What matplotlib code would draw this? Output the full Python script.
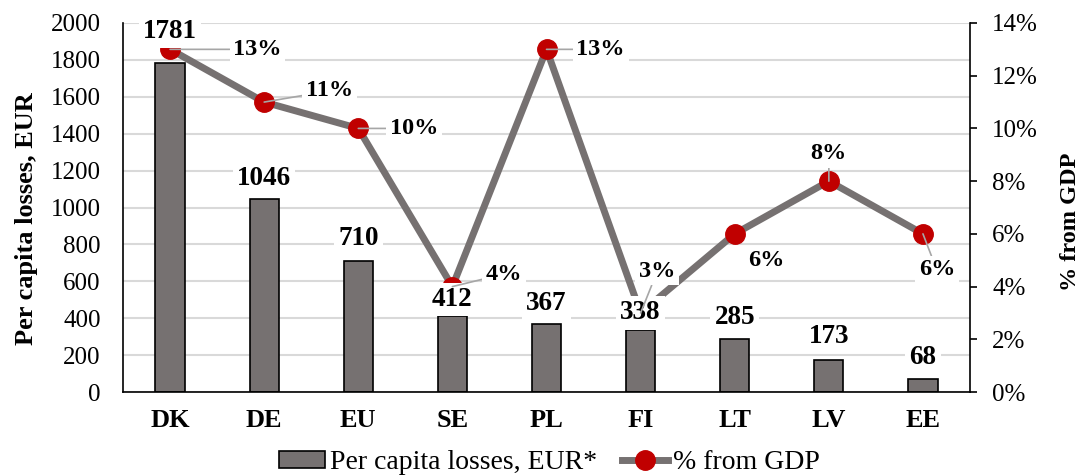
import matplotlib
matplotlib.use('Agg')
import matplotlib.pyplot as plt
from matplotlib.ticker import FuncFormatter, MultipleLocator
from matplotlib.lines import Line2D
from matplotlib.patches import Patch
import numpy as np

countries=['DK','DE','EU','SE','PL','FI','LT','LV','EE']
losses=[1781,1046,710,412,367,338,285,173,68]
gdp_share=[13,11,10,4,13,3,6,8,6]   # % from GDP

# label offsets in points (styling only)
loss_off=[23,15,16,12,15,12,16,17,16]
pct_off=[(63,0),(47,8),(40,0),(37,9),(39,0),(12,30),(23,-19),(0,20),(10,-26)]
pct_leader=[True,True,True,True,True,True,False,True,True]

plt.rcParams['font.family']=['Liberation Serif','DejaVu Serif']

bar_col='#767171'
dot_col='#c00000'
grid_col='#d9d9d9'

fig=plt.figure(figsize=(10.82,4.75),dpi=100)
ax=fig.add_axes([0.1137,0.1747,0.8965-0.1137,0.9516-0.1747])
x=np.arange(len(countries))

ax.bar(x,losses,width=0.31,color=bar_col,edgecolor='black',linewidth=1.2,zorder=2)
ax.set_xlim(-0.5,len(countries)-0.5)
ax.set_ylim(0,2000)
ax.yaxis.set_major_locator(MultipleLocator(200))
ax.grid(axis='y',color=grid_col,linewidth=1.5,zorder=0)
ax.set_axisbelow(True)
ax.set_xticks(x)
ax.set_xticklabels(countries,fontsize=19,fontweight='bold')
ax.tick_params(axis='x',length=0,pad=12)
ax.tick_params(axis='y',length=0,pad=16,labelsize=18)
ax.spines['top'].set_visible(False)
ax.spines['right'].set_visible(False)
ax.spines['left'].set_linewidth(1.2)
ax.spines['bottom'].set_linewidth(1.2)
ax.set_ylabel('Per capita losses, EUR',fontsize=19,fontweight='bold')
ax.yaxis.set_label_coords(-0.1003,0.469)

ax2=ax.twinx()
ax2.plot(x,np.array(gdp_share)/100,color=bar_col,linewidth=5,marker='o',
         markersize=14,markerfacecolor=dot_col,markeredgecolor=dot_col,zorder=3)
ax2.set_ylim(0,0.14)
ax2.yaxis.set_major_locator(MultipleLocator(0.02))
ax2.yaxis.set_major_formatter(FuncFormatter(lambda v,p: f'{v*100:.0f}%'))
ax2.tick_params(axis='y',length=5,width=1.2,pad=11,labelsize=18)
ax2.spines['top'].set_visible(False)
ax2.spines['left'].set_visible(False)
ax2.spines['bottom'].set_visible(False)
ax2.spines['right'].set_linewidth(1.2)
ax2.set_ylabel('% from GDP',fontsize=17.5,fontweight='bold')
ax2.yaxis.set_label_coords(1.106,0.4607)

box=dict(boxstyle='square,pad=0.15',facecolor='white',edgecolor='none')

# bar value labels (drawn on ax2 so they sit above the line)
for xi,v,off in zip(x,losses,loss_off):
    ax2.annotate(f'{v}',xy=(xi,v),xycoords=ax.transData,xytext=(0,off),
                 textcoords='offset points',ha='center',va='center',
                 fontsize=19.5,fontweight='bold',bbox=box,zorder=5)

# percentage labels with leader lines
for xi,v,off,lead in zip(x,gdp_share,pct_off,pct_leader):
    ap=dict(arrowstyle='-',color='#a6a6a6',linewidth=1.2,shrinkA=0,shrinkB=0) if lead else None
    ax2.annotate(f'{v}%',xy=(xi,v/100),xytext=off,textcoords='offset points',
                 ha='center',va='center',fontsize=17.5,fontweight='bold',
                 bbox=box,arrowprops=ap,zorder=6)

handles=[Patch(facecolor=bar_col,edgecolor='black',linewidth=1.2),
         Line2D([],[],color=bar_col,linewidth=5,marker='o',markersize=14,
                markerfacecolor=dot_col,markeredgecolor=dot_col)]
fig.legend(handles,['Per capita losses, EUR*','% from GDP'],loc='lower center',
           bbox_to_anchor=(0.508,-0.053),ncol=2,frameon=False,fontsize=20,
           handlelength=1.65,handleheight=0.55,handletextpad=0.18,columnspacing=0.9)

fig.savefig('out.png',dpi=100)
